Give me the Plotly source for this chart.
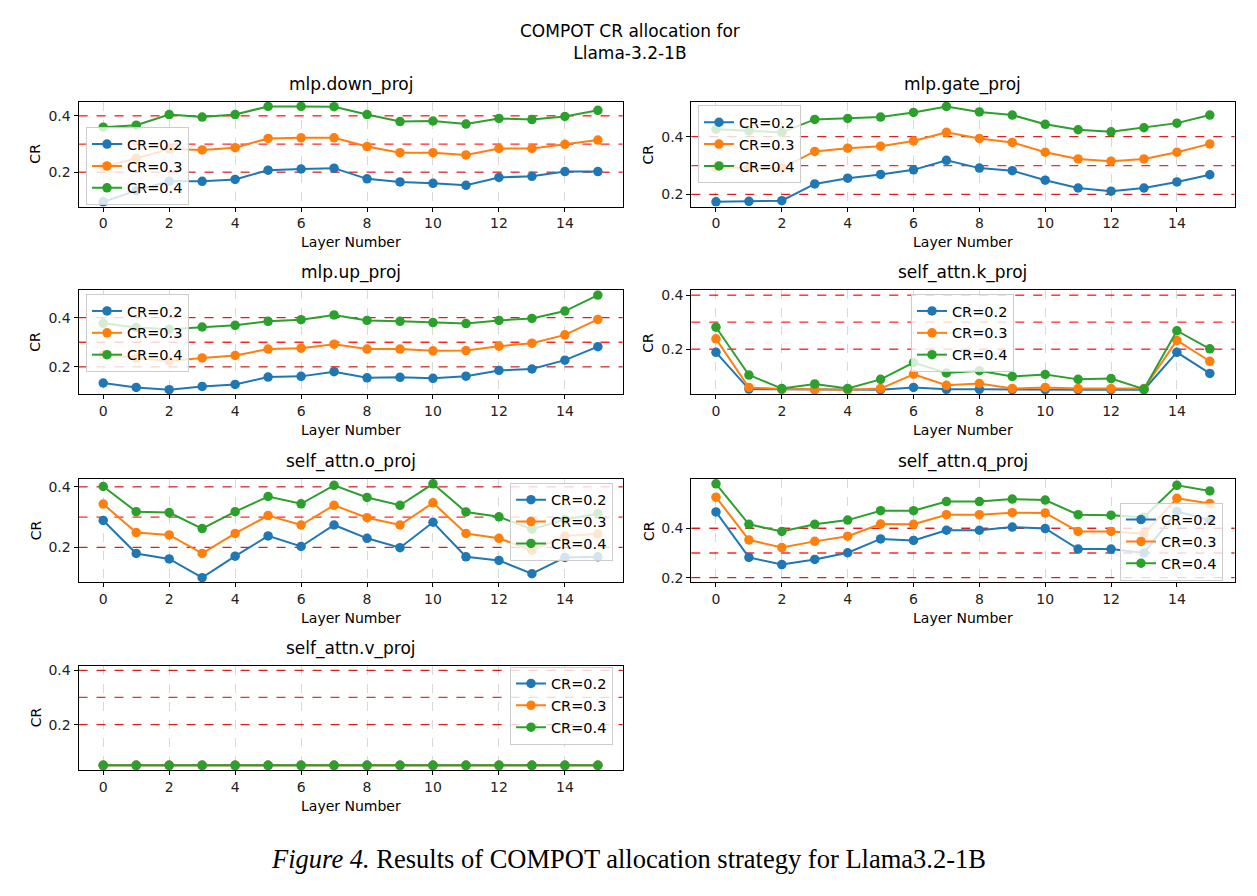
import plotly.graph_objects as go

# ---------------- data ----------------
layers = list(range(16))
cr_labels = ["CR=0.2", "CR=0.3", "CR=0.4"]
ref_lines = [0.2, 0.3, 0.4]
x_ticks = [0, 2, 4, 6, 8, 10, 12, 14]
y_ticks = [0.2, 0.4]

subplot_titles = ["mlp.down_proj", "mlp.gate_proj", "mlp.up_proj", "self_attn.k_proj",
                  "self_attn.o_proj", "self_attn.q_proj", "self_attn.v_proj"]

down_02 = [0.094, 0.134, 0.167, 0.167, 0.174, 0.207, 0.211, 0.214, 0.176, 0.165, 0.160, 0.153, 0.181, 0.185, 0.202, 0.202]
down_03 = [0.219, 0.249, 0.282, 0.279, 0.287, 0.320, 0.322, 0.322, 0.291, 0.269, 0.269, 0.261, 0.284, 0.284, 0.299, 0.314]
down_04 = [0.360, 0.367, 0.405, 0.396, 0.405, 0.434, 0.434, 0.433, 0.405, 0.380, 0.382, 0.371, 0.391, 0.387, 0.398, 0.420]

gate_02 = [0.174, 0.176, 0.178, 0.236, 0.256, 0.269, 0.285, 0.318, 0.291, 0.282, 0.249, 0.222, 0.211, 0.222, 0.243, 0.268]
gate_03 = [0.293, 0.293, 0.291, 0.349, 0.360, 0.367, 0.385, 0.415, 0.394, 0.380, 0.346, 0.323, 0.315, 0.323, 0.346, 0.375]
gate_04 = [0.426, 0.420, 0.415, 0.460, 0.463, 0.468, 0.484, 0.505, 0.486, 0.475, 0.443, 0.424, 0.417, 0.431, 0.447, 0.475]

up_02 = [0.134, 0.116, 0.107, 0.120, 0.128, 0.158, 0.161, 0.180, 0.155, 0.157, 0.153, 0.162, 0.185, 0.191, 0.227, 0.282]
up_03 = [0.249, 0.235, 0.224, 0.236, 0.246, 0.272, 0.276, 0.292, 0.272, 0.272, 0.265, 0.266, 0.284, 0.296, 0.330, 0.393]
up_04 = [0.377, 0.360, 0.353, 0.362, 0.369, 0.385, 0.392, 0.411, 0.389, 0.385, 0.380, 0.376, 0.389, 0.397, 0.427, 0.492]

k_02 = [0.188, 0.052, 0.051, 0.050, 0.050, 0.050, 0.058, 0.051, 0.051, 0.050, 0.050, 0.050, 0.050, 0.050, 0.188, 0.110]
k_03 = [0.238, 0.058, 0.052, 0.050, 0.050, 0.054, 0.107, 0.066, 0.073, 0.054, 0.058, 0.054, 0.054, 0.054, 0.232, 0.155]
k_04 = [0.281, 0.104, 0.054, 0.071, 0.054, 0.088, 0.150, 0.112, 0.120, 0.099, 0.106, 0.088, 0.091, 0.052, 0.268, 0.201]

o_02 = [0.289, 0.180, 0.162, 0.100, 0.171, 0.238, 0.203, 0.274, 0.230, 0.199, 0.283, 0.169, 0.157, 0.113, 0.167, 0.169]
o_03 = [0.343, 0.249, 0.241, 0.180, 0.246, 0.305, 0.274, 0.339, 0.298, 0.274, 0.347, 0.246, 0.230, 0.190, 0.238, 0.244]
o_04 = [0.401, 0.318, 0.315, 0.262, 0.318, 0.368, 0.344, 0.405, 0.365, 0.339, 0.410, 0.317, 0.301, 0.260, 0.292, 0.311]

q_02 = [0.466, 0.282, 0.253, 0.274, 0.301, 0.357, 0.351, 0.392, 0.392, 0.405, 0.399, 0.316, 0.316, 0.300, 0.468, 0.433]
q_03 = [0.526, 0.353, 0.322, 0.347, 0.368, 0.417, 0.416, 0.455, 0.455, 0.463, 0.462, 0.387, 0.387, 0.378, 0.521, 0.500]
q_04 = [0.580, 0.416, 0.387, 0.416, 0.433, 0.471, 0.471, 0.508, 0.508, 0.518, 0.514, 0.455, 0.453, 0.445, 0.574, 0.551]

v_02 = [0.05] * 16
v_03 = [0.05] * 16
v_04 = [0.05] * 16

series = [
    (down_02, down_03, down_04),
    (gate_02, gate_03, gate_04),
    (up_02, up_03, up_04),
    (k_02, k_03, k_04),
    (o_02, o_03, o_04),
    (q_02, q_03, q_04),
    (v_02, v_03, v_04),
]

# ---------------- layout geometry (pixels) ----------------
W, H = 1257, 896
colors = ["#1f77b4", "#ff7f0e", "#2ca02c"]
col_x = [(78.5, 622.6), (691.3, 1234.5)]
row_y = [(99.3, 205.0), (289.3, 394.0), (479.3, 583.3), (667.0, 772.3)]
legend_pos = [(86, 125), (698, 103), (86, 293), (911, 293), (510, 483), (1120, 503), (510, 668)]

FONT = "DejaVu Sans"


def px(x):
    return x / W


def py(y):
    return 1 - y / H


fig = go.Figure()
layout = dict(
    width=W, height=H, margin=dict(l=0, r=0, t=0, b=0),
    paper_bgcolor="white", plot_bgcolor="white",
    font=dict(family=FONT, size=14, color="black"),
    showlegend=True,
)
annotations = []
shapes = []

for i, (title, ss) in enumerate(zip(subplot_titles, series)):
    r, c = divmod(i, 2)
    x0, x1 = col_x[c]
    y0, y1 = row_y[r]
    ax = "" if i == 0 else str(i + 1)
    lg = "legend" if i == 0 else f"legend{i + 1}"

    for s, lab, col in zip(ss, cr_labels, colors):
        fig.add_trace(go.Scatter(
            x=layers, y=s, mode="lines+markers", name=lab,
            line=dict(color=col, width=2), marker=dict(color=col, size=9.5),
            xaxis="x" + ax, yaxis="y" + ax, legend=lg,
        ))

    allv = [v for s in ss for v in s] + ref_lines
    lo, hi = min(allv), max(allv)
    pad = 0.05 * (hi - lo)

    common = dict(showline=True, linecolor="black", linewidth=1, mirror=True,
                  ticks="outside", ticklen=4, tickcolor="black", tickwidth=1,
                  showgrid=True, gridcolor="rgba(0,0,0,0.15)", griddash="dash", gridwidth=1,
                  zeroline=False, tickfont=dict(family=FONT, size=14, color="#222"))
    layout["xaxis" + ax] = dict(domain=[px(x0), px(x1)], range=[-0.75, 15.75],
                                tickvals=x_ticks, anchor="y" + ax, **common)
    layout["yaxis" + ax] = dict(domain=[py(y1), py(y0)], range=[lo - pad, hi + pad],
                                tickvals=y_ticks, ticktext=[f"{v:.1f}" for v in y_ticks],
                                anchor="x" + ax, **common)

    for ref in ref_lines:
        shapes.append(dict(type="line", xref=f"x{ax} domain", x0=0, x1=1,
                           yref="y" + ax, y0=ref, y1=ref, layer="below",
                           line=dict(color="rgba(255,0,0,0.85)", width=1.3, dash="dash")))

    cx = px((x0 + x1) / 2)
    annotations.append(dict(text=title, x=cx, y=py(y0 - 5), xref="paper", yref="paper",
                            xanchor="center", yanchor="bottom", showarrow=False,
                            font=dict(family=FONT, size=17, color="black")))
    annotations.append(dict(text="Layer Number", x=cx, y=py(y1 + 36), xref="paper", yref="paper",
                            xanchor="center", yanchor="middle", showarrow=False,
                            font=dict(family=FONT, size=14, color="black")))
    annotations.append(dict(text="CR", x=px(x0 - 43), y=py((y0 + y1) / 2), xref="paper", yref="paper",
                            xanchor="center", yanchor="middle", showarrow=False, textangle=-90,
                            font=dict(family=FONT, size=14, color="black")))

    lx, ly = legend_pos[i]
    layout[lg] = dict(x=px(lx), y=py(ly), xanchor="left", yanchor="top",
                      bgcolor="rgba(255,255,255,0.8)", bordercolor="#cccccc", borderwidth=1,
                      font=dict(family=FONT, size=14.5, color="black"),
                      itemwidth=30, tracegroupgap=0)

annotations.append(dict(text="COMPOT CR allocation for<br>Llama-3.2-1B", x=px(630), y=py(39),
                        xref="paper", yref="paper", xanchor="center", yanchor="middle",
                        showarrow=False, font=dict(family=FONT, size=17, color="black")))
annotations.append(dict(text="<i>Figure 4.</i> Results of COMPOT allocation strategy for Llama3.2-1B",
                        x=px(629), y=py(862), xref="paper", yref="paper", xanchor="center",
                        yanchor="middle", showarrow=False,
                        font=dict(family="Liberation Serif", size=26.5, color="black")))

layout["annotations"] = annotations
layout["shapes"] = shapes
fig.update_layout(**layout)
fig.write_html("out.html")
